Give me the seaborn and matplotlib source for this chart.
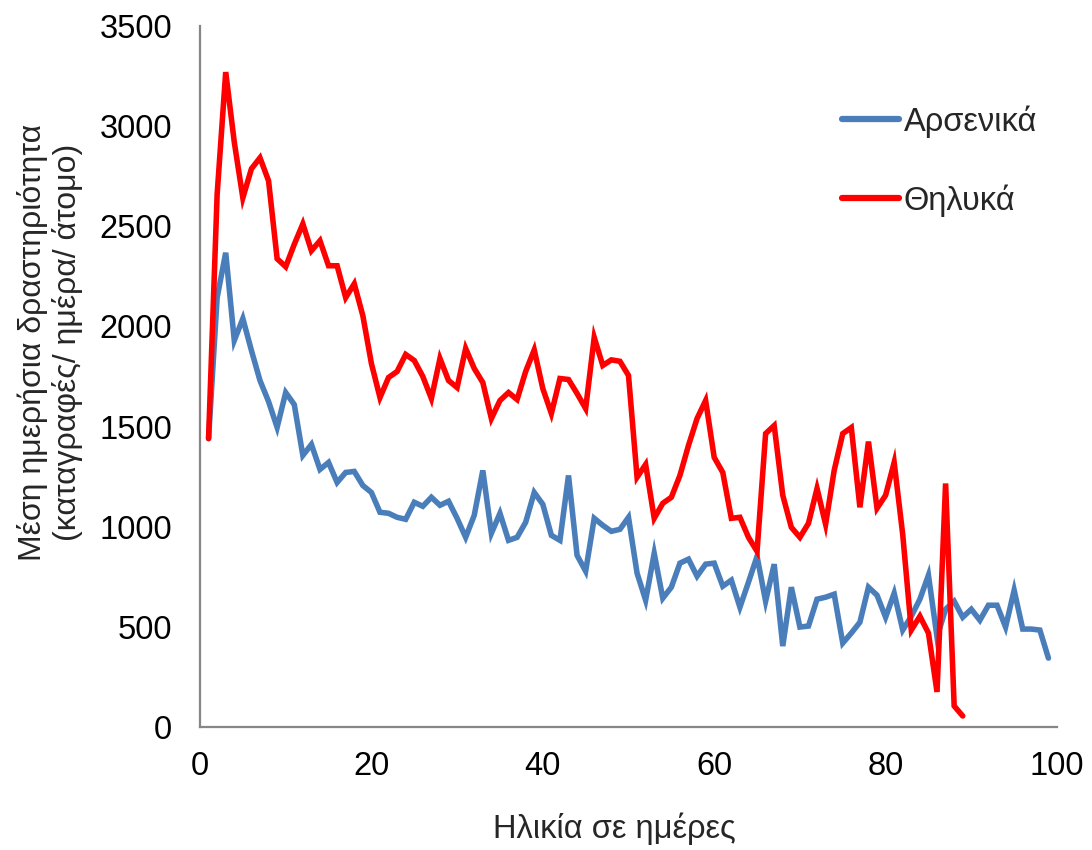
import numpy as np
import pandas as pd
import matplotlib
matplotlib.use("Agg")
import matplotlib.pyplot as plt
import seaborn as sns

# Mean daily activity per individual, by age in days
male_values = [
    1440, 2144, 2368, 1930, 2039, 1880, 1730, 1625, 1496, 1670,
    1610, 1356, 1411, 1286, 1321, 1221, 1271, 1276, 1206, 1171,
    1072, 1067, 1047, 1037, 1122, 1102, 1147, 1107, 1127, 1042,
    947, 1057, 1281, 967, 1067, 932, 947, 1022, 1171, 1112,
    957, 932, 1256, 857, 778, 1042, 1007, 977, 987, 1047,
    768, 633, 867, 643, 698, 818, 838, 753, 813, 818,
    703, 733, 598, 723, 852, 628, 813, 404, 698, 499,
    504, 638, 648, 663, 419, 469, 523, 698, 658, 548,
    668, 484, 553, 638, 758, 449, 588, 628, 548, 588,
    533, 608, 608, 499, 683, 489, 489, 484, 344,
]
female_values = [
    1440, 2660, 3270, 2920, 2642, 2787, 2842, 2727, 2338, 2298,
    2410, 2512, 2378, 2428, 2303, 2303, 2144, 2213, 2054, 1815,
    1645, 1745, 1775, 1860, 1830, 1750, 1640, 1840, 1730, 1695,
    1890, 1790, 1720, 1540, 1630, 1670, 1635, 1775, 1883, 1690,
    1565, 1740, 1735, 1665, 1590, 1945, 1805, 1833, 1826, 1755,
    1247, 1311, 1042, 1117, 1147, 1256, 1406, 1540, 1630, 1346,
    1271, 1042, 1047, 947, 877, 1465, 1505, 1157, 997, 947,
    1017, 1191, 1012, 1281, 1465, 1495, 1097, 1425, 1092, 1157,
    1321, 960, 484, 553, 469, 175, 1216, 105, 55,
]
male_days = list(range(1, len(male_values) + 1))
female_days = list(range(1, len(female_values) + 1))

series_names = ["Αρσενικά", "Θηλυκά"]
series_colors = ["#4a7ebb", "#ff0000"]

df = pd.concat([
    pd.DataFrame({"day": male_days, "activity": male_values, "sex": series_names[0]}),
    pd.DataFrame({"day": female_days, "activity": female_values, "sex": series_names[1]}),
], ignore_index=True)

sns.set_style("white")
plt.rcParams["font.family"] = ["Liberation Sans", "DejaVu Sans"]

fig = plt.figure(figsize=(10.92, 8.5), dpi=100)
ax = fig.add_axes([200 / 1092, 1 - 727 / 850, (1057 - 200) / 1092, (727 - 26) / 850])

sns.lineplot(
    data=df, x="day", y="activity", hue="sex",
    palette=dict(zip(series_names, series_colors)),
    linewidth=4, ax=ax, solid_joinstyle="miter", solid_capstyle="round",
)

ax.set_xlim(0, 100)
ax.set_ylim(0, 3500)
ax.set_xticks(range(0, 101, 20))
ax.set_yticks(range(0, 3501, 500))

for side in ("top", "right"):
    ax.spines[side].set_visible(False)
for side in ("left", "bottom"):
    ax.spines[side].set_color("#868686")
    ax.spines[side].set_linewidth(1.6)

ax.tick_params(axis="both", which="major", direction="out", length=8, width=1.6,
               color="#868686", labelsize=23.5, labelcolor="black")
ax.tick_params(axis="y", pad=12)
ax.tick_params(axis="x", pad=9)

ax.set_xlabel("Ηλικία σε ημέρες", fontsize=23.5)
ax.xaxis.set_label_coords(0.484, -0.122)
ax.set_ylabel("Μέση ημερήσια δραστηριότητα\n(καταγραφές/ ημέρα/ άτομο)",
              fontsize=23, linespacing=1.2)
ax.yaxis.set_label_coords(-0.136, 0.549)

leg = ax.legend(loc="upper left", bbox_to_anchor=(0.749, 0.887), frameon=False,
                fontsize=23.5, handlelength=1.75, labelspacing=1.42,
                handletextpad=0.15, borderpad=0, borderaxespad=0)
for line in leg.get_lines():
    line.set_linewidth(4.5)

fig.savefig("out.png", dpi=100)
